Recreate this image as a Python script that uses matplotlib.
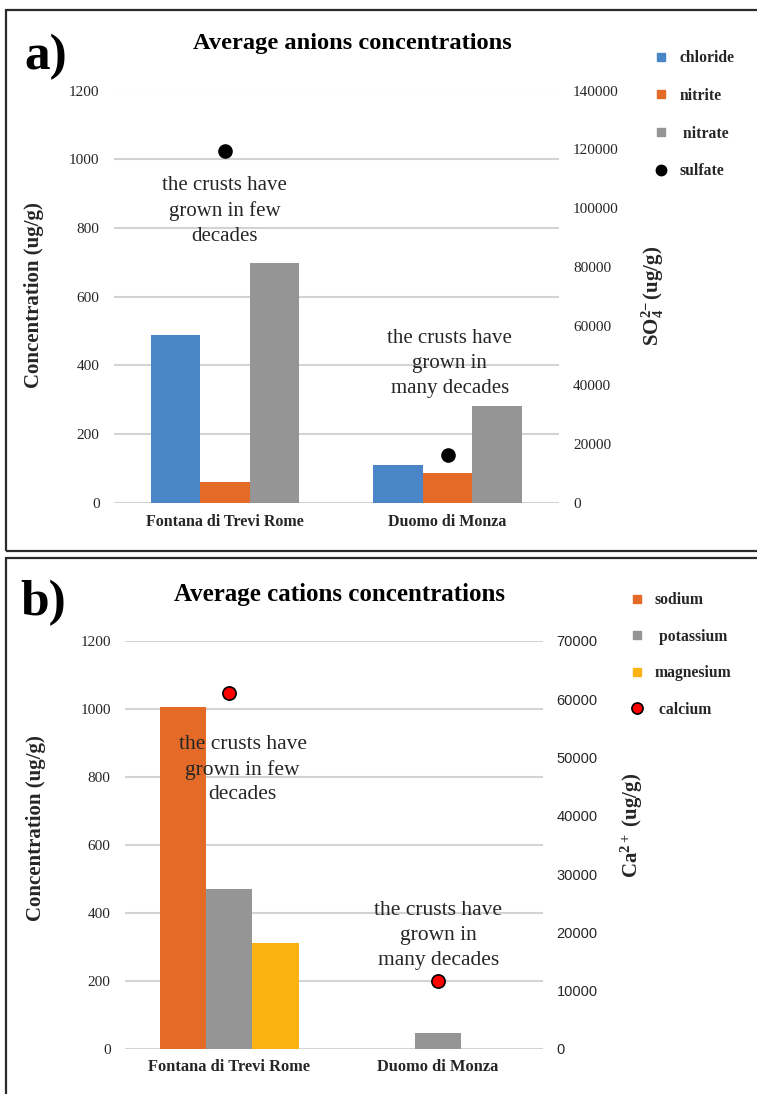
import numpy as np
import matplotlib
matplotlib.use("Agg")
import matplotlib.pyplot as plt
from matplotlib.lines import Line2D
from matplotlib.patches import Rectangle

plt.rcParams['font.family'] = ['Liberation Serif', 'DejaVu Serif']
plt.rcParams['mathtext.fontset'] = 'custom'
plt.rcParams['mathtext.rm'] = 'Liberation Serif:bold'
plt.rcParams['mathtext.bf'] = 'Liberation Serif:bold'
plt.rcParams['mathtext.it'] = 'Liberation Serif:bold'

# ---------------- data ----------------
sites = ["Fontana di Trevi Rome", "Duomo di Monza"]

chloride = [488, 111]
nitrite = [62, 86]
nitrate = [698, 282]
sulfate = [119300, 16300]

sodium = [1006, 0]
potassium = [471, 46]
magnesium = [312, 0]
calcium = [61000, 11700]

anion_labels = ["chloride", "nitrite", " nitrate", "sulfate"]
cation_labels = ["sodium", " potassium", "magnesium", " calcium"]

left_ticks = [0, 200, 400, 600, 800, 1000, 1200]
so4_ticks = [0, 20000, 40000, 60000, 80000, 100000, 120000, 140000]
ca_ticks = [0, 10000, 20000, 30000, 40000, 50000, 60000, 70000]

note_few = "the crusts have\ngrown in few\ndecades"
note_many = "the crusts have\ngrown in\nmany decades"

# ---------------- style ----------------
BLUE = '#4a85c8'
ORANGE = '#e46a28'
GRAY = '#959595'
GOLD = '#fbb314'
GRID = '#d3d3d3'
TXT = '#262626'

W, H = 757, 1094
fig = plt.figure(figsize=(W / 100, H / 100), dpi=100)

# panel borders
fig.add_artist(Rectangle((6 / W, 1 - 551 / H), 1.2, (551 - 10) / H, transform=fig.transFigure,
                         fill=False, ec='#2b2b2b', lw=1.6))
fig.add_artist(Rectangle((6 / W, -0.1), 1.2, 0.1 + 1 - 558 / H, transform=fig.transFigure,
                         fill=False, ec='#2b2b2b', lw=1.6))


def px_axes(l, r, t, b):
    return fig.add_axes([l / W, 1 - b / H, (r - l) / W, (b - t) / H])


def style_axes(ax, axr, rticks, rmax, rfont, bpad, cat_size):
    ax.set_xlim(-0.5, 1.5)
    ax.set_ylim(0, 1200)
    ax.set_yticks(left_ticks)
    ax.set_yticklabels([str(t) for t in left_ticks], fontsize=11, color=TXT)
    ax.yaxis.grid(True, color=GRID, lw=1.5, zorder=0)
    ax.set_axisbelow(True)
    for sp in ax.spines.values():
        sp.set_visible(False)
    for sp in axr.spines.values():
        sp.set_visible(False)
    ax.tick_params(axis='y', length=0, pad=10)
    ax.tick_params(axis='x', length=0, pad=bpad)
    ax.set_xticks(np.arange(len(sites)))
    ax.set_xticklabels(sites, fontsize=cat_size, fontweight='bold', color=TXT)
    axr.set_ylim(0, rmax)
    axr.set_yticks(rticks)
    axr.set_yticklabels([str(t) for t in rticks], fontsize=rfont[1], color=TXT,
                        family=rfont[0])
    axr.tick_params(axis='y', length=0, pad=10)


x = np.arange(len(sites))
w = 0.222

# ================= panel a =================
ax1 = px_axes(113.5, 559, 90.5, 503)
ax1r = ax1.twinx()
ax1.bar(x - w, chloride, w, color=BLUE, zorder=3)
ax1.bar(x, nitrite, w, color=ORANGE, zorder=3)
ax1.bar(x + w, nitrate, w, color=GRAY, zorder=3)
ax1r.plot(x, sulfate, 'o', color='black', ms=9.5, zorder=5)
style_axes(ax1, ax1r, so4_ticks, 140000, ('Liberation Serif', 11), 8, 11.5)

ax1.set_ylabel("Concentration (ug/g)", fontsize=15, fontweight='bold', va='center', color=TXT)
ax1.yaxis.set_label_coords((34 - 113.5) / 445.5, (503 - 295) / 412.5)
ax1r.set_ylabel(r"SO$_4^{2\!-}$(ug/g)", fontsize=15, fontweight='bold', va='center', color=TXT)
ax1r.yaxis.set_label_coords((653 - 113.5) / 445.5, (503 - 296) / 412.5)

ax1.text(0, 849, note_few, ha='center', va='center', fontsize=15, color=TXT,
         linespacing=1.42, zorder=6)
ax1.text(1.01, 406, note_many, ha='center', va='center', fontsize=15, color=TXT,
         linespacing=1.42, zorder=6)

fig.text(352 / W, 1 - 44 / H, "Average anions concentrations", ha='center', va='center',
         fontsize=17.6, fontweight='bold', color='black')
fig.text(46 / W, 1 - 57 / H, "a)", ha='center', va='center', fontsize=37,
         fontweight='bold', color='black')

h_a = [Line2D([], [], marker='s', ls='', color=BLUE, ms=6),
       Line2D([], [], marker='s', ls='', color=ORANGE, ms=6),
       Line2D([], [], marker='s', ls='', color=GRAY, ms=6),
       Line2D([], [], marker='o', ls='', color='black', ms=7.5)]
fig.legend(h_a, anion_labels, loc='upper left', bbox_to_anchor=(655 / W, 1 - 50 / H),
           frameon=False, prop={'weight': 'bold', 'size': 11.3}, labelspacing=1.39,
           handlelength=0.8, handletextpad=0.75, borderpad=0, borderaxespad=0,
           labelcolor=TXT)

# ================= panel b =================
ax2 = px_axes(124.6, 542.7, 641, 1049)
ax2r = ax2.twinx()
ax2.bar(x - w, sodium, w, color=ORANGE, zorder=3)
ax2.bar(x, potassium, w, color=GRAY, zorder=3)
ax2.bar(x + w, magnesium, w, color=GOLD, zorder=3)
ax2r.plot(x, calcium, 'o', color='#ff0000', mec='black', mew=1.2, ms=9.5, zorder=5)
style_axes(ax2, ax2r, ca_ticks, 70000, ('Liberation Sans', 10.5), 7, 11.8)

ax2.set_ylabel("Concentration (ug/g)", fontsize=15, fontweight='bold', va='center', color=TXT)
ax2.yaxis.set_label_coords((36 - 124.6) / 418.1, (1049 - 828) / 408)
ax2r.set_ylabel(r"Ca$^{2+}$ (ug/g)", fontsize=15, fontweight='bold', va='center', color=TXT)
ax2r.yaxis.set_label_coords((632 - 124.6) / 418.1, (1049 - 825) / 408)

ax2.text(0.064, 822, note_few, ha='center', va='center', fontsize=15.5, color=TXT,
         linespacing=1.4, zorder=6)
ax2.text(1.0, 334, note_many, ha='center', va='center', fontsize=15.5, color=TXT,
         linespacing=1.4, zorder=6)

fig.text(339 / W, 1 - 594 / H, "Average cations concentrations", ha='center', va='center',
         fontsize=18, fontweight='bold', color='black')
fig.text(43 / W, 1 - 603 / H, "b)", ha='center', va='center', fontsize=37,
         fontweight='bold', color='black')

h_b = [Line2D([], [], marker='s', ls='', color=ORANGE, ms=6),
       Line2D([], [], marker='s', ls='', color=GRAY, ms=6),
       Line2D([], [], marker='s', ls='', color=GOLD, ms=6),
       Line2D([], [], marker='o', ls='', color='#ff0000', mec='black', mew=1.2, ms=8)]
fig.legend(h_b, cation_labels, loc='upper left', bbox_to_anchor=(631 / W, 1 - 592 / H),
           frameon=False, prop={'weight': 'bold', 'size': 11.3}, labelspacing=1.31,
           handlelength=0.8, handletextpad=0.7, borderpad=0, borderaxespad=0,
           labelcolor=TXT)

fig.savefig("out.png", dpi=100)
